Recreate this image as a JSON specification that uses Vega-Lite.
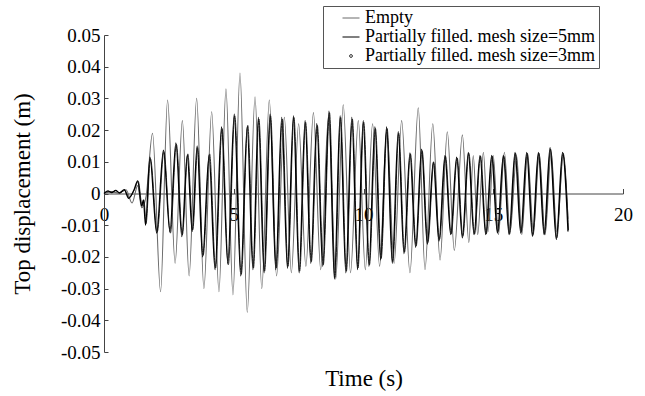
{
  "$schema": "https://vega.github.io/schema/vega-lite/v6.json",
  "width": 519,
  "height": 317,
  "autosize": "none",
  "padding": {"left": 104, "top": 35, "right": 22, "bottom": 44},
  "config": {
    "view": {"stroke": null},
    "font": "Liberation Serif",
    "axis": {"grid": false, "labelFont": "Liberation Serif", "titleFont": "Liberation Serif"},
    "legend": {"labelFont": "Liberation Serif"}
  },
  "datasets": {
    "empty": [
      {"t":0,"v":0},{"t":0.3,"v":0.0006},{"t":0.55,"v":0.0001},{"t":0.85,"v":0.0012},{"t":1.08,"v":-0.003},{"t":1.3,"v":0.0025},{"t":1.45,"v":-0.0045},{"t":1.62,"v":-0.001},{"t":1.87,"v":0.019},{"t":2.18,"v":-0.031},{"t":2.45,"v":0.0295},{"t":2.74,"v":-0.022},{"t":3.02,"v":0.023},{"t":3.28,"v":-0.026},{"t":3.57,"v":0.03},{"t":3.85,"v":-0.03},{"t":4.15,"v":0.0258},{"t":4.43,"v":-0.031},{"t":4.7,"v":0.033},{"t":4.97,"v":-0.032},{"t":5.24,"v":0.038},{"t":5.52,"v":-0.0375},{"t":5.82,"v":0.0305},{"t":6.08,"v":-0.03},{"t":6.37,"v":0.0295},{"t":6.65,"v":-0.026},{"t":6.95,"v":0.024},{"t":7.22,"v":-0.025},{"t":7.5,"v":0.022},{"t":7.78,"v":-0.023},{"t":8.07,"v":0.0255},{"t":8.35,"v":-0.024},{"t":8.65,"v":0.024},{"t":8.93,"v":-0.027},{"t":9.22,"v":0.028},{"t":9.5,"v":-0.025},{"t":9.8,"v":0.023},{"t":10.07,"v":-0.024},{"t":10.35,"v":0.022},{"t":10.62,"v":-0.023},{"t":10.9,"v":0.02},{"t":11.18,"v":-0.022},{"t":11.47,"v":0.023},{"t":11.79,"v":-0.025},{"t":12.11,"v":0.027},{"t":12.37,"v":-0.024},{"t":12.67,"v":0.022},{"t":12.95,"v":-0.021},{"t":13.23,"v":0.0195},{"t":13.5,"v":-0.018},{"t":13.81,"v":0.0185},{"t":14.06,"v":-0.0155},{"t":14.23,"v":0.012},{"t":14.4,"v":-0.013},{"t":14.62,"v":0.013},{"t":14.8,"v":-0.012},{"t":15.0,"v":0.012},{"t":15.2,"v":-0.013},{"t":15.43,"v":0.013},{"t":15.65,"v":-0.012},{"t":15.9,"v":0.012},{"t":16.1,"v":-0.013},{"t":16.32,"v":0.0125},{"t":16.55,"v":-0.012},{"t":16.77,"v":0.0125},{"t":17.0,"v":-0.013},{"t":17.23,"v":0.013},{"t":17.45,"v":-0.012},{"t":17.7,"v":0.012},{"t":17.88,"v":-0.008}
    ],
    "mesh5": [
      {"t":0,"v":0},{"t":0.15,"v":0.0008},{"t":0.3,"v":0.0003},{"t":0.45,"v":0.001},{"t":0.6,"v":0.0002},{"t":0.78,"v":0.0012},{"t":0.95,"v":-0.0015},{"t":1.15,"v":0.001},{"t":1.3,"v":0.004},{"t":1.45,"v":-0.004},{"t":1.52,"v":-0.002},{"t":1.6,"v":-0.01},{"t":1.77,"v":0.0115},{"t":2.03,"v":-0.0125},{"t":2.29,"v":0.0137},{"t":2.54,"v":-0.012},{"t":2.77,"v":0.016},{"t":3.0,"v":-0.0136},{"t":3.21,"v":0.012},{"t":3.4,"v":-0.012},{"t":3.59,"v":0.015},{"t":3.8,"v":-0.02},{"t":4.05,"v":0.012},{"t":4.28,"v":-0.024},{"t":4.53,"v":0.021},{"t":4.77,"v":-0.022},{"t":5.02,"v":0.025},{"t":5.27,"v":-0.026},{"t":5.52,"v":0.021},{"t":5.74,"v":-0.024},{"t":5.95,"v":0.024},{"t":6.17,"v":-0.025},{"t":6.4,"v":0.025},{"t":6.62,"v":-0.024},{"t":6.85,"v":0.024},{"t":7.07,"v":-0.0236},{"t":7.3,"v":0.0245},{"t":7.52,"v":-0.025},{"t":7.75,"v":0.023},{"t":7.97,"v":-0.022},{"t":8.2,"v":0.022},{"t":8.43,"v":-0.023},{"t":8.67,"v":0.026},{"t":8.88,"v":-0.027},{"t":9.1,"v":0.0245},{"t":9.32,"v":-0.025},{"t":9.55,"v":0.024},{"t":9.77,"v":-0.024},{"t":9.99,"v":0.023},{"t":10.21,"v":-0.023},{"t":10.44,"v":0.021},{"t":10.66,"v":-0.021},{"t":10.89,"v":0.021},{"t":11.11,"v":-0.022},{"t":11.34,"v":0.0195},{"t":11.56,"v":-0.019},{"t":11.79,"v":0.0128},{"t":12.01,"v":-0.017},{"t":12.24,"v":0.014},{"t":12.46,"v":-0.016},{"t":12.69,"v":0.01},{"t":12.91,"v":-0.015},{"t":13.14,"v":0.012},{"t":13.36,"v":-0.013},{"t":13.59,"v":0.0115},{"t":13.81,"v":-0.014},{"t":14.04,"v":0.013},{"t":14.26,"v":-0.013},{"t":14.49,"v":0.012},{"t":14.71,"v":-0.013},{"t":14.94,"v":0.012},{"t":15.16,"v":-0.0125},{"t":15.39,"v":0.012},{"t":15.61,"v":-0.013},{"t":15.84,"v":0.013},{"t":16.06,"v":-0.0125},{"t":16.29,"v":0.013},{"t":16.51,"v":-0.0135},{"t":16.74,"v":0.013},{"t":16.96,"v":-0.013},{"t":17.19,"v":0.0145},{"t":17.43,"v":-0.0145},{"t":17.67,"v":0.013},{"t":17.88,"v":-0.012}
    ],
    "mesh3": [
      {"t":0,"v":0},{"t":0.15,"v":0.0006},{"t":0.3,"v":0.0004},{"t":0.45,"v":0.0009},{"t":0.6,"v":0.0001},{"t":0.8,"v":0.001},{"t":0.97,"v":-0.0013},{"t":1.17,"v":0.0012},{"t":1.32,"v":0.0038},{"t":1.47,"v":-0.0038},{"t":1.54,"v":-0.0022},{"t":1.62,"v":-0.0095},{"t":1.79,"v":0.011},{"t":2.05,"v":-0.0122},{"t":2.31,"v":0.0132},{"t":2.56,"v":-0.0125},{"t":2.79,"v":0.0155},{"t":3.02,"v":-0.013},{"t":3.23,"v":0.0125},{"t":3.42,"v":-0.0115},{"t":3.61,"v":0.0145},{"t":3.82,"v":-0.0195},{"t":4.07,"v":0.0125},{"t":4.3,"v":-0.0235},{"t":4.55,"v":0.0205},{"t":4.79,"v":-0.0225},{"t":5.04,"v":0.0245},{"t":5.29,"v":-0.0255},{"t":5.54,"v":0.0215},{"t":5.76,"v":-0.0235},{"t":5.97,"v":0.0235},{"t":6.19,"v":-0.0245},{"t":6.42,"v":0.0245},{"t":6.64,"v":-0.0235},{"t":6.87,"v":0.0235},{"t":7.09,"v":-0.023},{"t":7.32,"v":0.024},{"t":7.54,"v":-0.0245},{"t":7.77,"v":0.0225},{"t":7.99,"v":-0.0215},{"t":8.22,"v":0.0215},{"t":8.45,"v":-0.0225},{"t":8.69,"v":0.0255},{"t":8.9,"v":-0.0265},{"t":9.12,"v":0.024},{"t":9.34,"v":-0.0245},{"t":9.57,"v":0.0235},{"t":9.79,"v":-0.0235},{"t":10.01,"v":0.0225},{"t":10.23,"v":-0.0225},{"t":10.46,"v":0.0205},{"t":10.68,"v":-0.0205},{"t":10.91,"v":0.0205},{"t":11.13,"v":-0.0215},{"t":11.36,"v":0.019},{"t":11.58,"v":-0.0185},{"t":11.81,"v":0.0125},{"t":12.03,"v":-0.0165},{"t":12.26,"v":0.0135},{"t":12.48,"v":-0.0155},{"t":12.71,"v":0.0098},{"t":12.93,"v":-0.0145},{"t":13.16,"v":0.0118},{"t":13.38,"v":-0.0128},{"t":13.61,"v":0.0112},{"t":13.83,"v":-0.0135},{"t":14.06,"v":0.0127},{"t":14.28,"v":-0.0128},{"t":14.51,"v":0.0118},{"t":14.73,"v":-0.0128},{"t":14.96,"v":0.0118},{"t":15.18,"v":-0.0122},{"t":15.41,"v":0.0118},{"t":15.63,"v":-0.0128},{"t":15.86,"v":0.0127},{"t":16.08,"v":-0.0122},{"t":16.31,"v":0.0127},{"t":16.53,"v":-0.0132},{"t":16.76,"v":0.0127},{"t":16.98,"v":-0.0128},{"t":17.21,"v":0.014},{"t":17.45,"v":-0.014},{"t":17.69,"v":0.0127},{"t":17.9,"v":-0.0115}
    ]
  },
  "encoding": {
    "x": {
      "field": "t", "type": "quantitative",
      "scale": {"domain": [0, 20], "nice": false, "zero": false},
      "axis": {
        "title": "Time (s)", "offset": -158.5, "values": [0, 5, 10, 15, 20],
        "labelFontSize": 19, "labelColor": "black", "labelFlush": false,
        "tickSize": -5, "tickColor": "#444", "domainColor": "#444", "labelPadding": 17,
        "titleFontSize": 23, "titleFontWeight": "normal", "titleColor": "black",
        "titleY": 184.5, "titleBaseline": "middle"
      }
    },
    "y": {
      "field": "v", "type": "quantitative",
      "scale": {"domain": [-0.05, 0.05], "nice": false},
      "axis": {
        "title": "Top displacement (m)",
        "values": [-0.05, -0.04, -0.03, -0.02, -0.01, 0, 0.01, 0.02, 0.03, 0.04, 0.05],
        "labelExpr": "datum.value === 0 ? '0' : (datum.value < 0 ? '-' : '') + format(abs(datum.value), '.2f')",
        "labelFontSize": 19, "labelColor": "black", "labelFlush": false,
        "tickSize": -4, "tickColor": "#444", "domainColor": "#444", "labelPadding": 8,
        "titleFontSize": 23, "titleFontWeight": "normal", "titleColor": "black",
        "titleX": -82, "titleY": 158.5, "titleBaseline": "middle"
      }
    }
  },
  "layer": [
    {
      "data": {"name": "empty"},
      "mark": {"type": "line", "interpolate": "monotone", "strokeWidth": 1.1},
      "encoding": {
        "color": {
          "datum": "Empty",
          "scale": {
            "domain": ["Empty", "Partially filled. mesh size=5mm", "Partially filled. mesh size=3mm"],
            "range": ["#6a6a6a", "#000000", "#333333"]
          },
          "legend": {
            "title": null, "orient": "none", "legendX": 219, "legendY": -29,
            "padding": 3, "strokeColor": "#555", "fillColor": "white",
            "labelFontSize": 18, "labelLimit": 0, "labelColor": "black", "rowPadding": 1,
            "symbolOffset": 16, "labelOffset": 5, "symbolType": "stroke", "symbolSize": 289,
            "symbolStrokeWidth": 1,
            "encode": {
              "symbols": {
                "update": {
                  "shape": {"signal": "datum.value === 'Partially filled. mesh size=3mm' ? 'circle' : 'stroke'"},
                  "size": {"signal": "datum.value === 'Partially filled. mesh size=3mm' ? 8 : 289"},
                  "stroke": {"signal": "datum.value === 'Partially filled. mesh size=3mm' ? '#aaaaaa' : (datum.value === 'Empty' ? '#aaaaaa' : '#000000')"}
                }
              }
            }
          }
        }
      }
    },
    {
      "data": {"name": "mesh3"},
      "mark": {"type": "line", "interpolate": "monotone", "strokeWidth": 1},
      "encoding": {"color": {"datum": "Partially filled. mesh size=3mm"}}
    },
    {
      "data": {"name": "mesh5"},
      "mark": {"type": "line", "interpolate": "monotone", "strokeWidth": 1.3},
      "encoding": {"color": {"datum": "Partially filled. mesh size=5mm"}}
    }
  ]
}
